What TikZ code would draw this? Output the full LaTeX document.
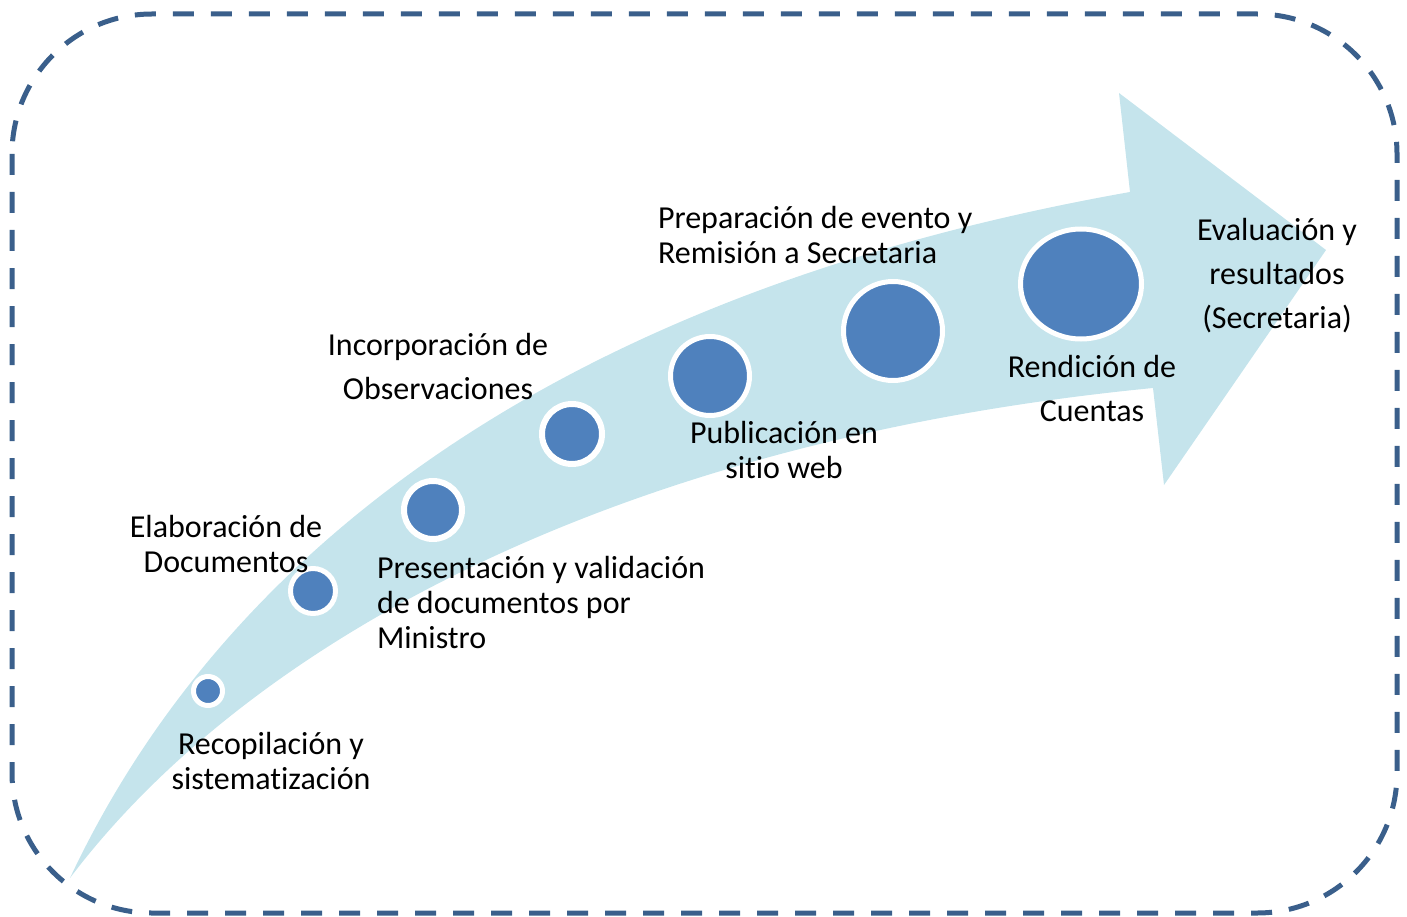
\documentclass[tikz,border=0pt]{standalone}
\usepackage{fontspec}
\setmainfont{Carlito}[Ligatures=NoCommon]
\usetikzlibrary{shapes.geometric}
\definecolor{arrowfill}{RGB}{197,228,236}
\definecolor{dotblue}{RGB}{79,129,189}
\definecolor{dashblue}{RGB}{58,95,139}
\begin{document}
\begin{tikzpicture}[x=1pt,y=-1pt,
  dot/.style={circle,fill=dotblue,draw=white,inner sep=0pt},
  lbltight/.style={font=\fontsize{32}{35}\selectfont,inner sep=0pt,outer sep=0pt},
  lblwide/.style={font=\fontsize{32}{44}\selectfont,inner sep=0pt,outer sep=0pt},
  frame/.style={draw=dashblue,line width=5pt,dash pattern=on 21pt off 17pt,rounded corners=140pt}]
\useasboundingbox (0,0) rectangle (1407,917);
% dashed frame
\draw[frame] (12,14) rectangle (1397,913);
% curved arrow
\fill[arrowfill] (70,878) .. controls (210,580) and (520,300) .. (1130,192)
  -- (1119,93) -- (1326,250) -- (1164,485) -- (1153,388)
  .. controls (620,440) and (250,640) .. (70,878) -- cycle;
% dots
\node[dot,minimum size=29pt,line width=5pt] (d1) at (208,691) {};
\node[dot,minimum size=45pt,line width=5pt] (d2) at (313,591) {};
\node[dot,minimum size=58pt,line width=6pt] (d3) at (433,510) {};
\node[dot,minimum size=60pt,line width=6pt] (d4) at (572,434) {};
\node[dot,minimum size=79pt,line width=5pt] (d5) at (710,376) {};
\node[dot,minimum size=99pt,line width=5pt] (d6) at (893,331) {};
\node[ellipse,fill=dotblue,draw=white,inner sep=0pt,line width=5pt,
      minimum width=121pt,minimum height=110pt] (d7) at (1081,284) {};
% labels (anchor = baseline of last line)
\node[lbltight,align=center,anchor=base] (t1) at (271,789) {Recopilación y\\sistematización};
\node[lbltight,align=center,anchor=base] (t2) at (226,572) {Elaboración de\\Documentos};
\node[lbltight,align=left,anchor=base west] (t3) at (377,648) {Presentación y validación\\de documentos por\\Ministro};
\node[lblwide,align=center,anchor=base] (t4) at (438,399) {Incorporación de\\Observaciones};
\node[lbltight,align=center,anchor=base] (t5) at (784,478) {Publicación en\\sitio web};
\node[lbltight,align=left,anchor=base west] (t6) at (658,263) {Preparación de evento y\\Remisión a Secretaria};
\node[lblwide,align=center,anchor=base] (t7) at (1092,421) {Rendición de\\Cuentas};
\node[lblwide,align=center,anchor=base] (t8) at (1277,328) {Evaluación y\\resultados\\(Secretaria)};
\end{tikzpicture}
\end{document}
